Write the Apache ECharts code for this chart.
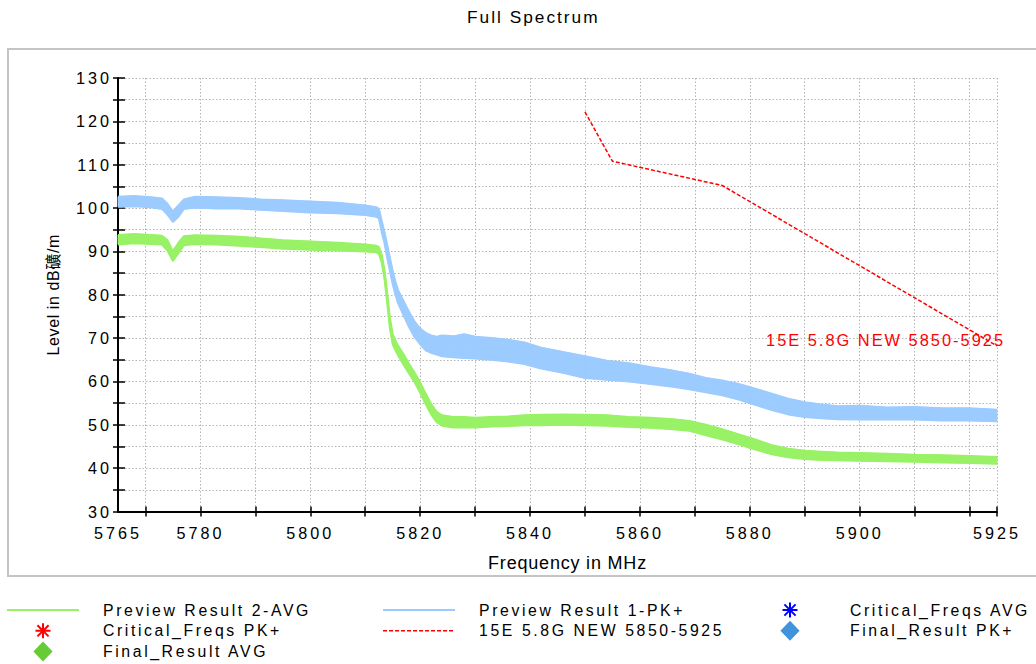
<!DOCTYPE html>
<html>
<head>
<meta charset="utf-8">
<script src="https://cdn.jsdelivr.net/npm/echarts@6/dist/echarts.min.js"></script>
<style>
html,body{margin:0;padding:0;background:#fff;}
#chart{width:1036px;height:664px;}
#chart text{letter-spacing:0px;}
#chart text[style*="16.2px"]{letter-spacing:3px;}
#chart text[style*="15.8px"]{letter-spacing:2.6px;}
#chart text[style*="17.3px"]{letter-spacing:2px;}
#chart text[style*="16.4px"]{letter-spacing:2px;}
#chart text[style*="18px"]{letter-spacing:0.8px;}
#chart text[style*="16px"]{letter-spacing:0.6px;}
</style>
</head>
<body>
<div id="chart"></div>
<script>
// ---- data ----
const freqs = [5765, 5768, 5771, 5773, 5774, 5775, 5776, 5777, 5779, 5783, 5787, 5791, 5795, 5800, 5805, 5810, 5812, 5812.5, 5813, 5813.5, 5814, 5814.5, 5815, 5815.5, 5816, 5817, 5818, 5819, 5820, 5821, 5822, 5823, 5824, 5826, 5828, 5830, 5833, 5836, 5839, 5842, 5846, 5850, 5854, 5858, 5862, 5866, 5869, 5872, 5875, 5878, 5881, 5884, 5887, 5890, 5893, 5896, 5900, 5905, 5910, 5915, 5920, 5925];

// Preview Result 1-PK+ : upper / lower edge of the trace band (dBµV/m)
const pkUpper = [102.6, 102.8, 102.5, 102.2, 101.0, 99.2, 100.6, 102.0, 102.6, 102.5, 102.3, 102.0, 101.8, 101.5, 101.2, 100.6, 100.2, 99.8, 97.0, 94.5, 91.5, 88.5, 85.5, 83.0, 81.0, 78.5, 76.0, 73.8, 72.2, 71.2, 70.6, 70.3, 70.6, 70.4, 70.9, 70.3, 70.0, 69.6, 69.0, 67.8, 66.8, 65.8, 64.8, 64.2, 63.3, 62.5, 61.8, 60.8, 60.2, 59.4, 58.3, 57.2, 56.0, 55.2, 54.7, 54.3, 54.4, 54.0, 54.1, 53.8, 53.8, 53.5];
const pkLower = [100.3, 100.4, 100.2, 99.8, 98.5, 96.8, 98.0, 99.8, 100.1, 99.9, 99.9, 99.6, 99.3, 99.0, 98.8, 98.4, 98.0, 97.6, 94.5, 92.0, 88.5, 85.5, 82.5, 80.0, 78.0, 75.2, 72.5, 70.2, 68.6, 67.2, 66.6, 66.2, 65.8, 65.6, 65.4, 65.3, 65.0, 64.6, 64.0, 63.0, 62.0, 60.8, 60.4, 60.0, 59.4, 58.8, 58.2, 57.5, 56.8, 55.8, 54.6, 53.4, 52.4, 51.8, 51.5, 51.3, 51.2, 51.2, 51.2, 51.0, 51.0, 50.8];

// Preview Result 2-AVG : upper / lower edge of the trace band
const avgUpper = [93.8, 94.0, 93.8, 93.6, 92.6, 90.0, 92.0, 93.5, 93.7, 93.6, 93.4, 93.0, 92.6, 92.3, 92.0, 91.6, 91.3, 91.0, 89.2, 85.8, 80.4, 74.6, 71.0, 69.4, 68.2, 66.2, 64.0, 62.0, 59.8, 57.2, 54.8, 53.0, 52.2, 51.8, 51.8, 51.6, 51.8, 51.9, 52.2, 52.3, 52.4, 52.3, 52.2, 51.8, 51.6, 51.3, 50.9, 50.0, 49.0, 47.8, 46.6, 45.3, 44.5, 44.0, 43.8, 43.6, 43.5, 43.3, 43.1, 43.0, 42.8, 42.6];
const avgLower = [91.6, 91.9, 91.7, 91.6, 90.2, 87.8, 89.6, 91.4, 91.7, 91.6, 91.3, 91.0, 90.6, 90.4, 90.2, 90.0, 89.8, 89.4, 87.4, 83.8, 78.2, 72.2, 68.6, 67.2, 66.0, 63.8, 61.8, 59.8, 57.4, 54.8, 52.4, 50.6, 49.8, 49.4, 49.4, 49.4, 49.6, 49.7, 49.9, 49.9, 50.0, 49.9, 49.8, 49.5, 49.3, 49.0, 48.6, 47.6, 46.6, 45.5, 44.3, 43.2, 42.5, 42.1, 41.9, 41.8, 41.7, 41.6, 41.5, 41.3, 41.2, 41.0];

// Limit line 15E 5.8G NEW 5850-5925
const limitFreqs = [5850, 5855, 5875, 5925];
const limitLevels = [122.2, 110.8, 105.2, 68.2];

// Marker series (no points in this plot)
const criticalAvg = [];
const criticalPk = [];
const finalPk = [];
const finalAvg = [];

// Axis ticks / labels
const xTickValues = [5770, 5780, 5790, 5800, 5810, 5820, 5830, 5840, 5850, 5860, 5870, 5880, 5890, 5900, 5910, 5920, 5925];
const xLabelValues = [5765, 5780, 5800, 5820, 5840, 5860, 5880, 5900, 5925];

const NAME_AVG = 'Preview Result 2-AVG';
const NAME_PK = 'Preview Result 1-PK+';
const NAME_LIMIT = '15E 5.8G NEW 5850-5925';

// ---- chart ----
const FONT = "'Liberation Sans', Arial, 'Noto Sans CJK SC', sans-serif";
const GREEN = '#99f266';
const BLUE = '#9ccbff';
const RED = '#ff0000';
const GRIDLINE = { color: '#b4b4b4', width: 1, type: [1.5, 2] };
const ASTERISK = 'path://M0 0L0.01 0M20 20L19.99 20M9 3.5L11 3.5L11 16.5L9 16.5ZM3.5 9L16.5 9L16.5 11L3.5 11ZM5.4 4L16 14.6L14.6 16L4 5.4ZM14.6 4L16 5.4L5.4 16L4 14.6Z';

// legend icons drawn in a 72x20 frame
const FRAME = 'M0 0L0.01 0M72 20L71.99 20';
const ICON_LINE = 'path://' + FRAME + 'M0 9L72 9L72 11L0 11Z';
let dash = '';
for (let k = 0; k < 12; k++) { const a = k * 6, b = a + 4; dash += `M${a} 9.3L${b} 9.3L${b} 10.7L${a} 10.7Z`; }
const ICON_DASH = 'path://' + FRAME + dash;
const ICON_DIAMOND = 'path://' + FRAME + 'M36 -2L47.5 10L36 22L24.5 10Z';
const ICON_AST = 'path://' + FRAME + 'M35 2.5L37 2.5L37 17.5L35 17.5ZM28.5 9L43.5 9L43.5 11L28.5 11ZM31.1 3.7L42.3 14.9L40.9 16.3L29.7 5.1ZM40.9 3.7L42.3 5.1L31.1 16.3L29.7 14.9Z';

const pairs = (xs, ys) => xs.map((x, i) => [x, ys[i]]);

function bandSeries(lo, hi, color) {
  return {
    type: 'custom', silent: true, z: 2,
    data: freqs.slice(1).map((f, i) => [freqs[i], f, lo[i], hi[i], lo[i + 1], hi[i + 1]]),
    encode: { x: [0, 1], y: [2, 3, 4, 5] },
    renderItem: (params, api) => {
      const a = api.coord([api.value(0), api.value(3)]);
      const b = api.coord([api.value(1), api.value(5)]);
      const c = api.coord([api.value(1), api.value(4)]);
      const d = api.coord([api.value(0), api.value(2)]);
      return { type: 'polygon', shape: { points: [a, b, c, d] }, style: { fill: color, stroke: color, lineWidth: 1 } };
    }
  };
}

const legendCommon = {
  orient: 'vertical', itemWidth: 72, itemHeight: 20, itemGap: 0.8, padding: 0,
  selectedMode: false, top: 600,
  textStyle: { fontFamily: FONT, fontSize: 15.8, color: '#000', padding: [0, 0, 0, 19] },
  itemStyle: { borderWidth: 0, opacity: 1 }
};

const xBase = { type: 'value', min: 5765, max: 5925, position: 'bottom', gridIndex: 0 };
const yBase = { type: 'value', min: 30, max: 130, interval: 10, position: 'left', gridIndex: 0 };
const tickLine = { color: '#000', width: 1.5 };

const option = {
  animation: false,
  title: {
    text: 'Full Spectrum', left: 467, top: 8, padding: 0,
    textStyle: { fontFamily: FONT, fontSize: 17.3, fontWeight: 'normal', color: '#000' }
  },
  graphic: [{
    type: 'rect', silent: true, z: -10,
    shape: { x: 8, y: 49, width: 1040, height: 527 },
    style: { fill: 'none', stroke: '#c4c4c4', lineWidth: 2 }
  }],
  grid: { left: 118, right: 39, top: 78, bottom: 152.5 },
  xAxis: [
    Object.assign({}, xBase, {
      name: 'Frequency in MHz', nameLocation: 'middle', nameGap: 42,
      nameTextStyle: { fontFamily: FONT, fontSize: 18, color: '#000', padding: [0, 0, 0, 20] },
      axisLine: { show: true, onZero: false, lineStyle: { color: '#000', width: 2 } },
      axisTick: { show: true, customValues: xTickValues, length: 5, lineStyle: tickLine },
      axisLabel: { show: true, customValues: xLabelValues, margin: 13, fontFamily: FONT, fontSize: 16.2, color: '#000', formatter: v => String(v) },
      splitLine: { show: true, lineStyle: GRIDLINE }
    }),
    Object.assign({}, xBase, {
      axisLine: { show: false },
      axisTick: { show: true, inside: true, customValues: xTickValues, length: 5, lineStyle: tickLine },
      axisLabel: { show: false },
      splitLine: { show: false }
    })
  ],
  yAxis: [
    Object.assign({}, yBase, {
      name: 'Level in dB礦/m', nameLocation: 'middle', nameGap: 57, nameRotate: 90,
      nameTextStyle: { fontFamily: FONT, fontSize: 16, color: '#000' },
      axisLine: { show: true, onZero: false, lineStyle: { color: '#000', width: 2 } },
      axisTick: { show: true, length: 5, lineStyle: tickLine },
      minorTick: { show: true, splitNumber: 2, length: 5, lineStyle: tickLine },
      axisLabel: { margin: 6, fontFamily: FONT, fontSize: 16.2, color: '#000' },
      splitLine: { show: true, lineStyle: GRIDLINE },
      minorSplitLine: { show: true, lineStyle: GRIDLINE }
    }),
    Object.assign({}, yBase, {
      axisLine: { show: false },
      axisTick: { show: true, inside: true, length: 7, lineStyle: tickLine },
      minorTick: { show: true, splitNumber: 2, length: 7, lineStyle: tickLine },
      axisLabel: { show: false },
      splitLine: { show: false }
    })
  ],
  legend: [
    Object.assign({}, legendCommon, { left: 7, data: [
      { name: NAME_AVG, icon: ICON_LINE },
      { name: 'Critical_Freqs PK+', icon: ICON_AST },
      { name: 'Final_Result AVG', icon: ICON_DIAMOND }] }),
    Object.assign({}, legendCommon, { left: 383, data: [
      { name: NAME_PK, icon: ICON_LINE },
      { name: NAME_LIMIT, icon: ICON_DASH }] }),
    Object.assign({}, legendCommon, { left: 754, data: [
      { name: 'Critical_Freqs AVG', icon: ICON_AST },
      { name: 'Final_Result PK+', icon: ICON_DIAMOND }] })
  ],
  series: [
    bandSeries(avgLower, avgUpper, GREEN),
    { name: 'avgLowerEdge', type: 'line', symbol: 'none', silent: true, z: 3,
      data: pairs(freqs, avgLower), lineStyle: { color: GREEN, width: 2 } },
    { name: NAME_AVG, type: 'line', symbol: 'none', silent: true, z: 3,
      data: pairs(freqs, avgUpper),
      lineStyle: { color: GREEN, width: 2 }, itemStyle: { color: GREEN } },
    bandSeries(pkLower, pkUpper, BLUE),
    { name: 'pkLowerEdge', type: 'line', symbol: 'none', silent: true, z: 3,
      data: pairs(freqs, pkLower), lineStyle: { color: BLUE, width: 2 } },
    { name: NAME_PK, type: 'line', symbol: 'none', silent: true, z: 3,
      data: pairs(freqs, pkUpper),
      lineStyle: { color: BLUE, width: 2 }, itemStyle: { color: BLUE } },
    { name: NAME_LIMIT, type: 'line', symbol: 'none', silent: true, z: 5,
      data: pairs(limitFreqs, limitLevels),
      lineStyle: { color: RED, width: 1.5, type: [4, 2] }, itemStyle: { color: RED },
      markPoint: {
        symbol: 'circle', symbolSize: 1, itemStyle: { color: 'rgba(0,0,0,0)' },
        data: [{ coord: [limitFreqs[limitFreqs.length - 1], limitLevels[limitLevels.length - 1]] }],
        label: { show: true, position: 'inside', align: 'right', verticalAlign: 'middle', offset: [8, -6],
          formatter: '{a}', color: RED, fontFamily: FONT, fontSize: 16.4 }
      } },
    { name: 'Critical_Freqs AVG', type: 'scatter', symbol: ASTERISK, symbolSize: 12, data: criticalAvg, itemStyle: { color: '#0000ff', opacity: 1 } },
    { name: 'Critical_Freqs PK+', type: 'scatter', symbol: ASTERISK, symbolSize: 12, data: criticalPk, itemStyle: { color: RED, opacity: 1 } },
    { name: 'Final_Result PK+', type: 'scatter', symbol: 'diamond', symbolSize: 18, data: finalPk, itemStyle: { color: '#3f94dc', opacity: 1 } },
    { name: 'Final_Result AVG', type: 'scatter', symbol: 'diamond', symbolSize: 18, data: finalAvg, itemStyle: { color: '#66cc33', opacity: 1 } }
  ]
};

const chart = echarts.init(document.getElementById('chart'), null, { renderer: 'svg', width: 1036, height: 664 });
chart.setOption(option);
</script>
</body>
</html>
